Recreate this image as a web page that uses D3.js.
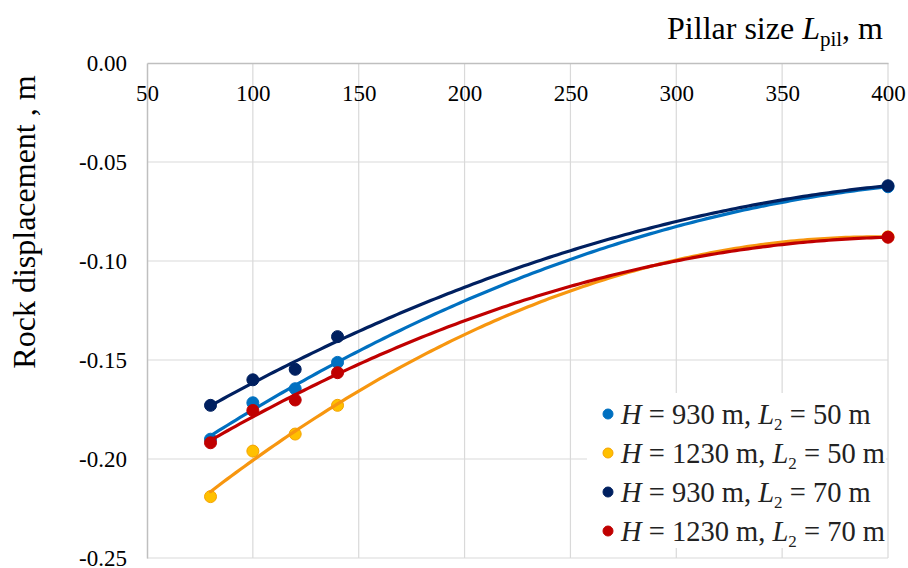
<!DOCTYPE html>
<html>
<head>
<meta charset="utf-8">
<script src="https://cdn.jsdelivr.net/npm/d3@7"></script>
<style>
  body { margin: 0; background: #fff; }
  svg { display: block; }
  svg text { font-family: "Liberation Serif", "Times New Roman", Times, serif; }
</style>
</head>
<body>
<svg id="chart" width="908" height="568"></svg>
<script>
// ---- data ----
const pillarSizes = [80, 100, 120, 140, 400];
const seriesH = [930, 1230, 930, 1230];
const seriesL2 = [50, 50, 70, 70];
const dispH930L50 = [-0.190, -0.1716, -0.1645, -0.1512, -0.0625];
const dispH1230L50 = [-0.219, -0.196, -0.1874, -0.1729, -0.0878];
const dispH930L70 = [-0.1729, -0.160, -0.1547, -0.1382, -0.0620];
const dispH1230L70 = [-0.1918, -0.1755, -0.1702, -0.1564, -0.0880];
const xTicks = [50, 100, 150, 200, 250, 300, 350, 400];
const yTicks = [0, -0.05, -0.10, -0.15, -0.20, -0.25];

const seriesValues = [dispH930L50, dispH1230L50, dispH930L70, dispH1230L70];
const markerFill = ["#0070C0", "#FFC000", "#002060", "#C00000"];
const markerStroke = ["#0070C0", "#F5A300", "#002060", "#C00000"];
const lineColor = ["#0070C0", "#F7960F", "#002060", "#C00000"];

const svg = d3.select("#chart");
const x = d3.scaleLinear().domain([50, 400]).range([147, 888]);
const y = d3.scaleLinear().domain([-0.25, 0]).range([558, 63]);

// grid
svg.append("g").selectAll("line").data(xTicks.slice(1)).join("line")
  .attr("x1", d => x(d)).attr("x2", d => x(d))
  .attr("y1", y(0)).attr("y2", y(-0.25))
  .attr("stroke", "#d9d9d9").attr("stroke-width", 1.2);
svg.append("g").selectAll("line").data(yTicks.slice(1, -1)).join("line")
  .attr("x1", x(50)).attr("x2", x(400))
  .attr("y1", d => y(d)).attr("y2", d => y(d))
  .attr("stroke", "#d9d9d9").attr("stroke-width", 1.2);
svg.append("line").attr("x1", x(50)).attr("x2", x(400))
  .attr("y1", y(-0.25)).attr("y2", y(-0.25)).attr("stroke", "#d9d9d9").attr("stroke-width", 1.2);

// axes
const xAxis = d3.axisTop(x).tickValues(xTicks).tickSize(0).tickFormat(d3.format("d"));
const gx = svg.append("g").attr("transform", `translate(0,${y(0)})`).call(xAxis);
gx.attr("font-family", null);
gx.select(".domain").attr("stroke", "#bfbfbf").attr("stroke-width", 1.5);
gx.selectAll("text").attr("font-size", 23).attr("fill", "#000")
  .attr("dy", null).attr("y", 38).attr("text-anchor", "middle");

const yAxis = d3.axisLeft(y).tickValues(yTicks).tickSize(0).tickFormat(d3.format(".2f"));
const gy = svg.append("g").attr("transform", `translate(${x(50)},0)`).call(yAxis);
gy.attr("font-family", null);
gy.select(".domain").attr("stroke", "#bfbfbf").attr("stroke-width", 1.5);
gy.selectAll("text").attr("font-size", 23).attr("fill", "#000")
  .attr("x", -20).attr("dy", "0.33em")
  .text(d => d3.format(".2f")(d).replace("−", "-"));

// quadratic least-squares trendline
function quadFit(xs, ys) {
  let S = [0,0,0,0,0], T = [0,0,0];
  xs.forEach((xv, i) => {
    for (let k = 0; k < 5; k++) S[k] += Math.pow(xv, k);
    for (let k = 0; k < 3; k++) T[k] += Math.pow(xv, k) * ys[i];
  });
  const A = [[S[0],S[1],S[2],T[0]],[S[1],S[2],S[3],T[1]],[S[2],S[3],S[4],T[2]]];
  for (let c = 0; c < 3; c++) {
    for (let r = c + 1; r < 3; r++) {
      const f = A[r][c] / A[c][c];
      for (let k = c; k < 4; k++) A[r][k] -= f * A[c][k];
    }
  }
  const co = [0,0,0];
  for (let r = 2; r >= 0; r--) {
    let s = A[r][3];
    for (let k = r + 1; k < 3; k++) s -= A[r][k] * co[k];
    co[r] = s / A[r][r];
  }
  return xv => co[0] + co[1] * xv + co[2] * xv * xv;
}

const line = d3.line().x(d => x(d[0])).y(d => y(d[1])).curve(d3.curveLinear);
const xmin = d3.min(pillarSizes), xmax = d3.max(pillarSizes);
seriesValues.forEach((vals, i) => {
  const f = quadFit(pillarSizes, vals);
  const pts = d3.range(xmin, xmax + 0.001, 2).map(xv => [xv, f(xv)]);
  const g = svg.append("g");
  g.selectAll("circle").data(pillarSizes.map((xv, j) => [xv, vals[j]])).join("circle")
    .attr("cx", d => x(d[0])).attr("cy", d => y(d[1])).attr("r", 6)
    .attr("fill", markerFill[i]).attr("stroke", markerStroke[i]).attr("stroke-width", 1);
  g.append("path").datum(pts).attr("d", line)
    .attr("fill", "none").attr("stroke", lineColor[i]).attr("stroke-width", 3.2)
    .attr("stroke-linecap", "round");
});

// axis titles
const xt = svg.append("text").attr("x", 883).attr("y", 39).attr("text-anchor", "end")
  .attr("font-size", 32).attr("fill", "#000");
xt.append("tspan").text("Pillar size ");
xt.append("tspan").attr("font-style", "italic").text("L");
xt.append("tspan").attr("font-size", 21).attr("dy", 7).text("pil");
xt.append("tspan").attr("dy", -7).text(", m");

svg.append("text").attr("transform", "translate(35,222) rotate(-90)")
  .attr("text-anchor", "middle").attr("font-size", 32).attr("fill", "#000")
  .text("Rock displacement , m");

// legend
const lg = svg.append("g");
lg.append("rect").attr("x", 587).attr("y", 393).attr("width", 299).attr("height", 155).attr("fill", "#fff");
const rowY = [414, 453, 492, 531];
seriesH.forEach((h, i) => {
  lg.append("circle").attr("cx", 608).attr("cy", rowY[i]).attr("r", 5)
    .attr("fill", markerFill[i]).attr("stroke", markerStroke[i]).attr("stroke-width", 1);
  const t = lg.append("text").attr("x", 621).attr("y", rowY[i] + 10)
    .attr("font-size", 28.5).attr("fill", "#222");
  t.append("tspan").attr("font-style", "italic").text("H");
  t.append("tspan").text(` = ${h} m, `);
  t.append("tspan").attr("font-style", "italic").text("L");
  t.append("tspan").attr("font-size", 17).attr("dy", 6).text("2");
  t.append("tspan").attr("dy", -6).text(` = ${seriesL2[i]} m`);
});
</script>
</body>
</html>
